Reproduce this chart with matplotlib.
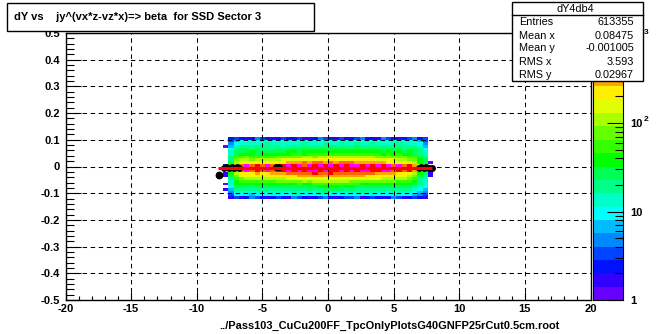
import numpy as np
import matplotlib
matplotlib.use("Agg")
import matplotlib.pyplot as plt
from matplotlib.colors import ListedColormap, LogNorm
from matplotlib.patches import Rectangle
from matplotlib.ticker import FixedLocator, NullFormatter

plt.rcParams.update({
    "font.family": ["Liberation Sans", "DejaVu Sans"],
    "font.size": 8,
    "font.weight": "bold",
    "axes.unicode_minus": False,
    "lines.scale_dashes": False,
})

W, H = 656, 334

# 2d histogram, read off the picture as palette bands (0-9, a-j), '.' = empty bin
# top row is y 0.10..0.11, bottom row is y -0.12..-0.11
BAND_ROWS = [
    ". 2321243212 3223112432 1322342214 32123423 .",
    ". 3566766767 6767677667 7677667676 67767653 .",
    ". 4677777877 7777877787 7877877877 77877764 .",
    "0 5788888888 7888888889 8888988888 88888875 .",
    ". 6899898889 8899999999 9999999999 99989986 .",
    ". 7999a99999 9aa9aaaaaa aaaaaaaaa9 a9a9a987 .",
    ". 79aaa9aaaa aabbabbbbb bbbbbbbbba babaa987 .",
    ". 8bbcbbbbbc ccccddcddd ddddddddcc ccccbb98 .",
    ". 8cddcddddd eeefeeffff ffffffffee eeddcca9 .",
    ". 9deefeefff fggghghhgh ghhhgggggg ffeefda9 0",
    "1 bfhjhihjhi ijijhjijij ijijjijiji jhjhigdb .",
    "i ciiiiiiiii iiiiiiiiii iiiiiiiiii iiiiiiic i",
    ". bfhjhihjhi ijijijjiji ijijijjiij jhihigdb 2",
    "1 adfffgffgg ghhhhhihhi hhhhhhhhgg ggffeda9 1",
    "1 9ceeeeeeff fffggggggg ggggggffff ffeedc98 1",
    ". 8bcddddddd deeeeeeeee eeeeeeeeed ddddcb87 .",
    ". 7abbbbbbbc ccccdcdddd dddccccccc ccbbba87 .",
    "0 7aaaaaaaaa aaabaabbbb bbbbbaaaaa aaaaa987 .",
    ". 6999899999 9999999aaa a9aa999999 99999876 .",
    "1 5888888888 8888898899 9989888888 88888765 .",
    ". 4777777777 7787777887 7777787777 77777654 .",
    ". 3666566676 6677666767 6676676766 66766543 .",
    ". 1312432123 2143212342 1233412321 24312321 .",
]
X_EDGES = np.arange(-8.0, 8.01, 0.4)
Y_EDGES = np.arange(-0.12, 0.111, 0.01)
Z_MAX = 1040.0

PALETTE = [
    "#6600ff", "#3300ff", "#0011ff", "#0044ff", "#0088ff",
    "#00bbff", "#00ffff", "#00ffcc", "#00ff88", "#00ff55",
    "#00ff00", "#33ff00", "#66ff00", "#aaff00", "#e0ff00",
    "#ffee00", "#ffa500", "#ff6600", "#ff0000", "#ff00ff",
]

# overlays: black profile markers and the red line
MARK_X = [-8.3, -7.95, -7.75, -7.55, -7.35, -7.15, -6.95, -6.8, -3.95, -3.7,
          6.9, 7.1, 7.3, 7.5, 7.7, 7.9]
MARK_Y = [-0.03, -0.004, -0.003, -0.004, -0.003, -0.004, -0.003, -0.004, -0.003, -0.003,
          -0.004, -0.003, -0.004, -0.003, -0.004, -0.005]
LINE_X = [-8.4, 7.95]
LINE_Y = [-0.007, -0.007]

X_TICKS = [-20, -15, -10, -5, 0, 5, 10, 15, 20]
Y_TICKS = [-0.5, -0.4, -0.3, -0.2, -0.1, 0, 0.1, 0.2, 0.3, 0.4, 0.5]
Y_LABELS = ["-0.5", "-0.4", "-0.3", "-0.2", "-0.1", "0", "0.1", "0.2", "0.3", "0.4", "0.5"]

TITLE = "dY vs    jy^(vx*z-vz*x)=> beta  for SSD Sector 3"
XLABEL = "../Pass103_CuCu200FF_TpcOnlyPlotsG40GNFP25rCut0.5cm.root"
STATS_NAME = "dY4db4"
STATS_KEYS = ["Entries", "Mean x", "Mean y", "RMS x", "RMS y"]
STATS_VALUES = ["613355", "0.08475", "-0.001005", "3.593", "0.02967"]


def px_axes(fig, left, top, right, bottom, **kw):
    """Axes placed with pixel coordinates (origin top left)."""
    return fig.add_axes([left / W, 1 - bottom / H, (right - left) / W, (bottom - top) / H], **kw)


fig = plt.figure(figsize=(W / 100, H / 100), dpi=100, facecolor="white")
ax = px_axes(fig, 65.5, 33, 590.5, 300)

digits = "0123456789abcdefghij"
rows = [r.replace(" ", "") for r in BAND_ROWS][::-1]
counts = np.full((len(rows), len(rows[0])), np.nan)
for j, row in enumerate(rows):
    for i, ch in enumerate(row):
        if ch != ".":
            counts[j, i] = Z_MAX ** ((digits.index(ch) + 0.5) / len(PALETTE))

cmap = ListedColormap(PALETTE)
norm = LogNorm(vmin=1, vmax=Z_MAX)
ax.pcolormesh(X_EDGES, Y_EDGES, np.ma.masked_invalid(counts), cmap=cmap, norm=norm,
              antialiased=False, zorder=1)

ax.set_xlim(-20, 20)
ax.set_ylim(-0.5, 0.5)
ax.set_xticks(X_TICKS)
ax.set_yticks(Y_TICKS, Y_LABELS)
ax.xaxis.set_minor_locator(FixedLocator(np.arange(-20, 21, 1)))
ax.yaxis.set_minor_locator(FixedLocator(np.arange(-0.5, 0.501, 0.02)))
ax.tick_params(axis="x", which="major", direction="in", length=6, width=0.8, pad=3)
ax.tick_params(axis="x", which="minor", direction="in", length=3, width=0.8)
ax.tick_params(axis="y", which="major", direction="in", length=11, width=0.8, pad=4)
ax.tick_params(axis="y", which="minor", direction="in", length=5.5, width=0.8)
ax.grid(True, which="major", color="black", linewidth=0.75, linestyle=(0, (3.2, 2.6)))
ax.set_axisbelow(False)
for side in ax.spines.values():
    side.set_linewidth(1.0)

ax.plot(MARK_X, MARK_Y, "o", color="black", markersize=5, markeredgewidth=0, zorder=3)
ax.plot(MARK_X[:1], MARK_Y[:1], "o", color="black", markersize=5.6, markeredgewidth=0, zorder=3)
ax.plot(LINE_X, LINE_Y, color="#ff0000", linewidth=2.2, solid_capstyle="butt", zorder=4)

# colour scale, one cell per palette band
cax = px_axes(fig, 593, 33, 623, 300)
band_edges = Z_MAX ** (np.arange(len(PALETTE) + 1) / len(PALETTE))
band_mids = np.sqrt(band_edges[:-1] * band_edges[1:]).reshape(-1, 1)
cax.pcolormesh([0, 1], band_edges, band_mids, cmap=cmap, norm=norm, antialiased=False, zorder=1)
cax.set_yscale("log")
cax.set_xlim(0, 1)
cax.set_ylim(1, Z_MAX)
cax.set_xticks([])
cax.yaxis.tick_right()
cax.yaxis.set_major_locator(FixedLocator([1, 10, 100, 1000]))
cax.set_yticklabels(["1", "10", "10", ""])
cax.yaxis.set_minor_locator(FixedLocator([m * d for d in (1, 10, 100) for m in range(2, 10)]))
cax.yaxis.set_minor_formatter(NullFormatter())
cax.tick_params(axis="y", which="major", direction="in", length=11.5, width=0.8, pad=5)
cax.tick_params(axis="y", which="minor", direction="in", length=5.5, width=0.8)
cax.set_axisbelow(False)
for side in cax.spines.values():
    side.set_linewidth(0.8)
cax.text(1.68, 100, "2", transform=cax.get_yaxis_transform(), fontsize=6,
         ha="left", va="bottom", clip_on=False)
cax.text(1.70, 970, "3", transform=cax.get_yaxis_transform(), fontsize=6,
         ha="left", va="bottom", clip_on=False)

# pixel overlay for the boxes and free text
top = fig.add_axes([0, 0, 1, 1], zorder=10, facecolor="none")
top.set_xlim(0, W)
top.set_ylim(H, 0)
top.axis("off")

top.add_patch(Rectangle((7, 3), 307, 28, facecolor="white", edgecolor="black", linewidth=1.0))
top.text(14, 17, TITLE, fontsize=8.0, ha="left", va="center")

top.add_patch(Rectangle((512, 2), 131, 79, facecolor="white", edgecolor="black", linewidth=1.0))
top.plot([512, 643], [15, 15], color="black", linewidth=1.0)
top.text(575, 9, STATS_NAME, fontsize=7.8, fontweight="normal", ha="center", va="center")
for key, value, y in zip(STATS_KEYS, STATS_VALUES, [22, 36, 48, 62, 75]):
    top.text(519, y, key, fontsize=7.8, fontweight="normal", ha="left", va="center")
    top.text(634, y, value, fontsize=7.8, fontweight="normal", ha="right", va="center")

top.text(389.5, 326, XLABEL, fontsize=7.9, ha="center", va="center")

fig.savefig("out.png", dpi=100)
